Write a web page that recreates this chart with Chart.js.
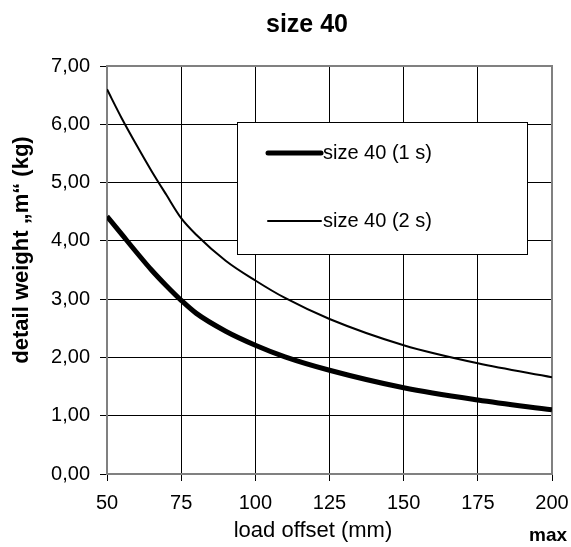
<!DOCTYPE html>
<html>
<head>
<meta charset="utf-8">
<script src="https://cdn.jsdelivr.net/npm/chart.js@4.4.1/dist/chart.umd.min.js"></script>
<style>
  html, body { margin: 0; padding: 0; background: #fff; }
  #wrap { width: 571px; height: 547px; }
</style>
</head>
<body>
<div id="wrap"><canvas id="weightChart"></canvas></div>
<script>
// load offset (mm) and read-off detail weights (kg)
const loadOffsets = [50, 55, 60, 65, 70, 75, 80, 90, 100, 110, 125, 150, 175, 200];
const weight1s = [4.42, 4.11, 3.80, 3.50, 3.23, 2.98, 2.76, 2.45, 2.21, 2.01, 1.78, 1.48, 1.27, 1.10];
const weight2s = [6.60, 6.10, 5.64, 5.20, 4.79, 4.39, 4.11, 3.66, 3.32, 3.02, 2.66, 2.21, 1.90, 1.66];
const seriesLabels = ['size 40 (1 s)', 'size 40 (2 s)'];
const xTicks = [50, 75, 100, 125, 150, 175, 200];
const yTickLabels = ['0,00', '1,00', '2,00', '3,00', '4,00', '5,00', '6,00', '7,00'];

const FONT = "'Liberation Sans', Arial, sans-serif";

function toPoints(values) {
    return loadOffsets.map((x, i) => ({ x: x, y: values[i] }));
}

// grey frame round the plot area
const framePlugin = {
    id: 'frame',
    beforeDatasetsDraw(chart) {
        const { ctx, chartArea: a } = chart;
        ctx.save();
        ctx.strokeStyle = '#808080';
        ctx.lineWidth = 2;
        ctx.strokeRect(a.left, a.top, a.right - a.left, a.bottom - a.top);
        ctx.restore();
    }
};

// boxed legend inside the plot, like the original
const boxLegendPlugin = {
    id: 'boxLegend',
    afterDatasetsDraw(chart) {
        const ctx = chart.ctx;
        ctx.save();
        ctx.fillStyle = '#fff';
        ctx.fillRect(237, 122, 290, 132);
        ctx.strokeStyle = '#000';
        ctx.lineWidth = 1;
        ctx.strokeRect(237.5, 122.5, 290, 132);
        const rows = [153, 221];
        chart.data.datasets.forEach((ds, i) => {
            const y = rows[i];
            ctx.beginPath();
            ctx.lineWidth = ds.borderWidth;
            ctx.lineCap = 'round';
            ctx.strokeStyle = ds.borderColor;
            ctx.moveTo(268, y);
            ctx.lineTo(321, y);
            ctx.stroke();
            ctx.fillStyle = '#000';
            ctx.font = '20px ' + FONT;
            ctx.textBaseline = 'middle';
            ctx.textAlign = 'left';
            ctx.fillText(ds.label, 323, y);
        });
        ctx.restore();
    }
};

// chart title, axis titles and the "max" note
const textPlugin = {
    id: 'texts',
    afterDraw(chart) {
        const ctx = chart.ctx;
        ctx.save();
        ctx.fillStyle = '#000';
        ctx.textAlign = 'center';
        ctx.textBaseline = 'middle';
        ctx.font = 'bold 25px ' + FONT;
        ctx.fillText('size 40', 307, 25);
        ctx.font = '22px ' + FONT;
        ctx.fillText('load offset (mm)', 313, 531);
        ctx.font = 'bold 19px ' + FONT;
        ctx.fillText('max', 548, 536);
        // y title, turned
        ctx.translate(22, 250);
        ctx.rotate(-Math.PI / 2);
        ctx.font = 'bold 22px ' + FONT;
        ctx.fillText('detail weight \u201Em\u201C (kg)', 0, 0);
        ctx.restore();
    }
};

const ctx = document.getElementById('weightChart').getContext('2d');
const weightChart = new Chart(ctx, {
    type: 'line',
    data: {
        datasets: [
            {
                label: seriesLabels[0],
                data: toPoints(weight1s),
                borderColor: '#000',
                borderWidth: 5,
                pointRadius: 0,
                cubicInterpolationMode: 'monotone',
                fill: false
            },
            {
                label: seriesLabels[1],
                data: toPoints(weight2s),
                borderColor: '#000',
                borderWidth: 2,
                pointRadius: 0,
                cubicInterpolationMode: 'monotone',
                fill: false
            }
        ]
    },
    options: {
        responsive: true,
        maintainAspectRatio: false,
        animation: false,
        devicePixelRatio: 1,
        layout: {
            padding: { left: 0, right: 19, top: 66, bottom: 27 }
        },
        plugins: {
            legend: { display: false },
            tooltip: { enabled: false },
            title: { display: false }
        },
        scales: {
            x: {
                type: 'linear',
                min: 50,
                max: 200,
                afterBuildTicks: function(scale) {
                    scale.ticks = xTicks.map(v => ({ value: v }));
                },
                afterFit: function(scale) {
                    scale.height = 46;
                    scale.paddingLeft = 0;
                    scale.paddingRight = 0;
                },
                ticks: {
                    color: '#000',
                    font: { family: FONT, size: 20 },
                    padding: 10,
                    maxRotation: 0,
                    autoSkip: false
                },
                grid: {
                    color: '#000',
                    lineWidth: 1,
                    tickLength: 7
                },
                border: { display: false }
            },
            y: {
                min: 0,
                max: 7,
                afterFit: function(scale) {
                    scale.width = 107;
                    scale.paddingTop = 0;
                    scale.paddingBottom = 0;
                },
                ticks: {
                    stepSize: 1,
                    color: '#000',
                    font: { family: FONT, size: 20 },
                    padding: 10,
                    callback: function(value) {
                        return yTickLabels[value];
                    }
                },
                grid: {
                    color: '#000',
                    lineWidth: 1,
                    tickLength: 7
                },
                border: { display: false }
            }
        }
    },
    plugins: [framePlugin, boxLegendPlugin, textPlugin]
});
</script>
</body>
</html>
